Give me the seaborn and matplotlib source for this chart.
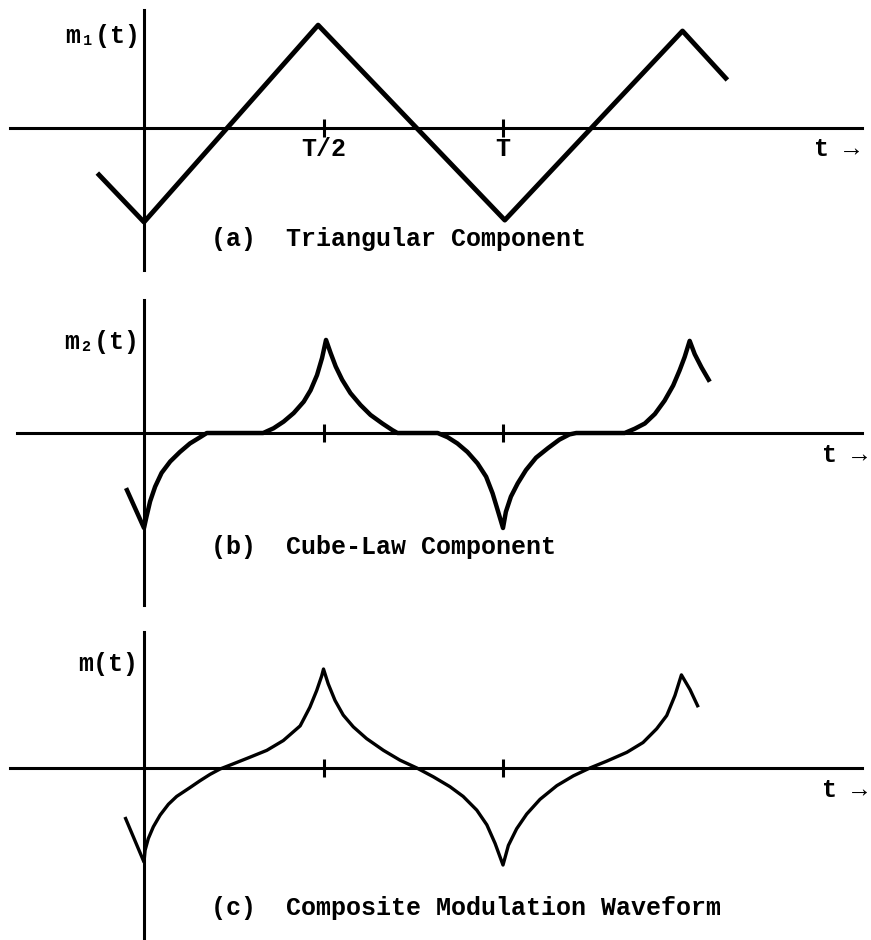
import matplotlib
matplotlib.use("Agg")
import matplotlib.pyplot as plt
import seaborn as sns
import pandas as pd

# ---- waveform samples (t in periods T, amplitude normalised to peak) ----
tri_t = [-0.13, 0.0, 0.485, 1.005, 1.50, 1.625]
tri_v = [-0.46, -0.96, 1.05, -0.94, 0.99, 0.49]

cube_t = [-0.05, 0.0, 0.007, 0.017, 0.031, 0.049, 0.073, 0.10, 0.128, 0.156,
          0.175, 0.332, 0.361, 0.389, 0.417, 0.445, 0.464, 0.482, 0.496, 0.507,
          0.52, 0.534, 0.552, 0.575, 0.603, 0.631, 0.664, 0.692, 0.706, 0.818,
          0.846, 0.873, 0.901, 0.929, 0.953, 0.971, 0.985, 1.0, 1.008, 1.022,
          1.041, 1.064, 1.092, 1.125, 1.157, 1.185, 1.204, 1.339, 1.367, 1.395,
          1.423, 1.45, 1.474, 1.492, 1.506, 1.52, 1.534, 1.553, 1.576]
cube_v = [-0.58, -1.0, -0.88, -0.72, -0.565, -0.42, -0.30, -0.20, -0.11, -0.045,
          0.0, 0.0, 0.05, 0.12, 0.21, 0.33, 0.45, 0.61, 0.79, 0.98,
          0.84, 0.70, 0.56, 0.42, 0.295, 0.19, 0.10, 0.03, 0.0, 0.0,
          -0.045, -0.11, -0.20, -0.32, -0.46, -0.635, -0.81, -1.0, -0.83, -0.67,
          -0.53, -0.39, -0.26, -0.16, -0.07, -0.015, 0.0, 0.0, 0.045, 0.10,
          0.20, 0.34, 0.50, 0.66, 0.80, 0.97, 0.83, 0.69, 0.54]

comp_t = [-0.053, 0.0, 0.003, 0.012, 0.026, 0.045, 0.068, 0.091, 0.128, 0.156,
          0.184, 0.212, 0.249, 0.295, 0.342, 0.388, 0.435, 0.462, 0.481, 0.495,
          0.5, 0.513, 0.532, 0.555, 0.583, 0.62, 0.667, 0.713, 0.76, 0.806,
          0.852, 0.889, 0.927, 0.955, 0.978, 1.0, 1.015, 1.038, 1.066, 1.103,
          1.15, 1.196, 1.242, 1.289, 1.345, 1.39, 1.428, 1.456, 1.479, 1.497,
          1.521, 1.544]
comp_v = [-0.50, -0.96, -0.84, -0.72, -0.60, -0.48, -0.37, -0.29, -0.20, -0.13,
          -0.065, -0.01, 0.043, 0.11, 0.18, 0.28, 0.43, 0.62, 0.79, 0.94,
          1.01, 0.86, 0.69, 0.54, 0.42, 0.30, 0.18, 0.08, 0.0, -0.09,
          -0.19, -0.29, -0.43, -0.58, -0.77, -0.99, -0.79, -0.62, -0.47, -0.32,
          -0.18, -0.08, 0.0, 0.07, 0.16, 0.26, 0.40, 0.535, 0.74, 0.95,
          0.80, 0.62]

tick_pos = [0.5, 1.0]
tick_labels = ["T/2", "T"]
y_labels = ["m\u2081(t)", "m\u2082(t)", "m(t)"]
captions = ["(a)  Triangular Component",
            "(b)  Cube-Law Component",
            "(c)  Composite Modulation Waveform"]

# ---- figure setup ----
sns.set_theme(style="white")
FONT = ["Liberation Mono", "DejaVu Sans Mono"]
plt.rcParams["font.family"] = FONT
plt.rcParams["font.weight"] = "bold"

W, H = 871, 940
fig = plt.figure(figsize=(W / 100, H / 100), dpi=100)

X0, PX_PER_T = 144, 359          # vertical axis position and period length (px)
xlim = (-X0 / PX_PER_T, (W - X0) / PX_PER_T)

# panel layout: (top px, bottom px, zero-line px, px per unit, axis top, axis bottom, hline left)
panels = [
    (0, 290, 128, 98, 10, 270, 10),
    (290, 615, 433, 95, 300, 605, 17),
    (615, 940, 768, 98, 632, 940, 10),
]
series = [(tri_t, tri_v, 3.5), (cube_t, cube_v, 3.2), (comp_t, comp_v, 2.4)]

for i, ((top, bot, zero, scale, ay0, ay1, hx0), (ts, vs, lw)) in enumerate(zip(panels, series)):
    ax = fig.add_axes([0, 1 - bot / H, 1, (bot - top) / H])
    ax.set_facecolor("none")
    to_v = lambda y: (zero - y) / scale
    to_t = lambda x: (x - X0) / PX_PER_T
    ax.set_xlim(*xlim)
    ax.set_ylim(to_v(bot), to_v(top))

    df = pd.DataFrame({"t": ts, "v": vs})
    sns.lineplot(data=df, x="t", y="v", ax=ax, color="black", lw=lw,
                 sort=False, estimator=None)
    for ln in ax.lines:
        ln.set_solid_joinstyle("round")
        ln.set_solid_capstyle("butt")

    # axes drawn through the origin
    for s in ("top", "right"):
        ax.spines[s].set_visible(False)
    ax.spines["left"].set_position(("data", 0))
    ax.spines["bottom"].set_position(("data", 0))
    ax.spines["left"].set_bounds(to_v(ay1), to_v(ay0))
    ax.spines["bottom"].set_bounds(to_t(hx0), to_t(862))
    for s in ("left", "bottom"):
        ax.spines[s].set_color("black")
        ax.spines[s].set_linewidth(2.2)
    ax.set_yticks([])
    ax.set_xticks(tick_pos)
    ax.set_xticklabels(tick_labels if i == 0 else ["", ""])
    ax.tick_params(axis="x", bottom=True, direction="inout", length=13, width=2.2,
                   colors="black", labelsize=18, pad=0)
    for lab in ax.get_xticklabels():
        lab.set_fontweight("bold")
        lab.set_family(FONT)
    ax.set_xlabel("")
    ax.set_ylabel("")

def ftext(x, y, s, ha="left"):
    fig.text(x / W, 1 - y / H, s, ha=ha, va="center", fontsize=18,
             fontweight="bold", family=FONT, color="black")

# axis names
ftext(140, 36, y_labels[0], ha="right")
ftext(139, 342, y_labels[1], ha="right")
ftext(138, 664, y_labels[2], ha="right")

# time arrows
ftext(814, 149, "t \u2192")
ftext(822, 455, "t \u2192")
ftext(822, 790, "t \u2192")

# captions
ftext(211, 239, captions[0])
ftext(211, 547, captions[1])
ftext(211, 908, captions[2])

fig.savefig("out.png", dpi=100, facecolor="white")
